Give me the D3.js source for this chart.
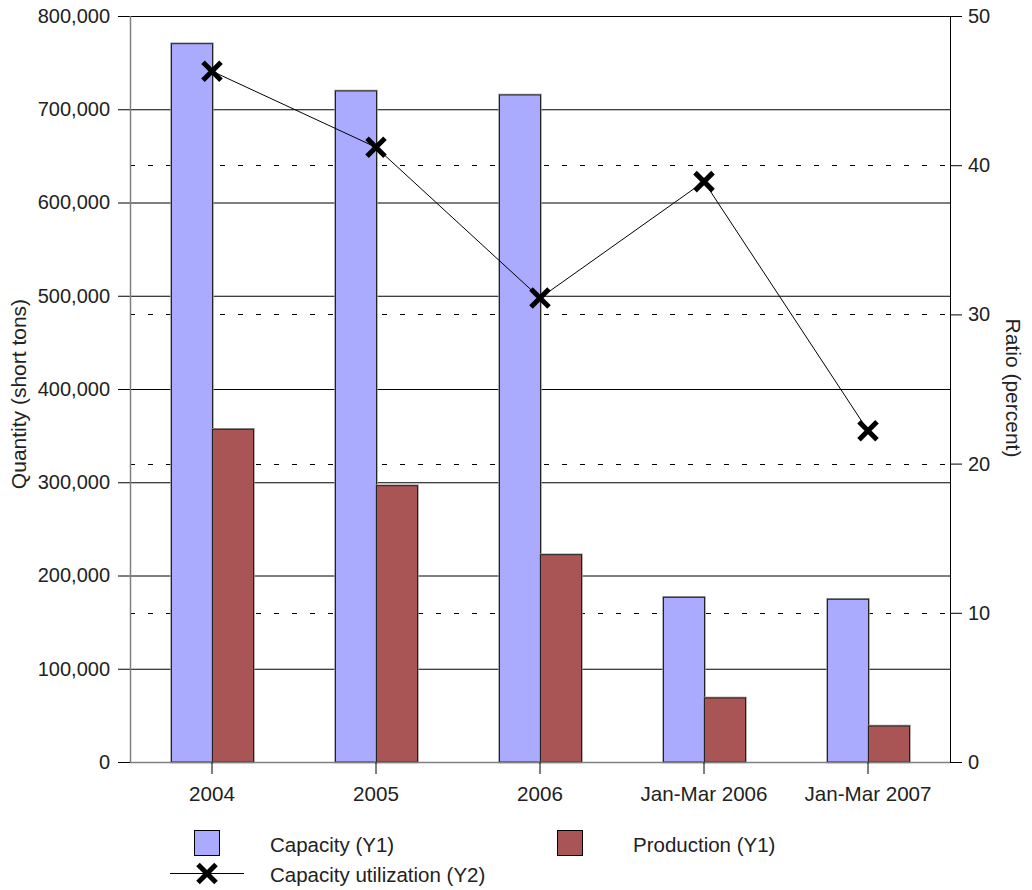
<!DOCTYPE html>
<html>
<head>
<meta charset="utf-8">
<script src="https://cdn.jsdelivr.net/npm/d3@7"></script>
<style>
  body { margin: 0; background: #fff; }
  svg { display: block; }
  text { font-family: "Liberation Sans", Arial, sans-serif; fill: #222; }
</style>
</head>
<body>
<svg id="chart" width="1032" height="890"></svg>
<script>
// Periods shown along the x axis
const categories = ["2004", "2005", "2006", "Jan-Mar 2006", "Jan-Mar 2007"];
// Quantities in short tons (left axis)
const capacity = [770300, 719600, 715300, 176600, 174500];
const production = [356800, 296300, 222300, 68700, 38600];
// Capacity utilization in percent (right axis)
const utilization = [46.3, 41.2, 31.1, 38.9, 22.2];
// Axis ticks
const y1Ticks = [0, 100000, 200000, 300000, 400000, 500000, 600000, 700000, 800000];
const y2Ticks = [0, 10, 20, 30, 40, 50];

const svg = d3.select("#chart");
const plotLeft = 130, plotRight = 950, plotTop = 16, plotBottom = 762;

const x = d3.scaleBand().domain(categories).range([plotLeft, plotRight])
  .paddingInner(0.5).paddingOuter(0.25);
const xSub = d3.scaleBand().domain(["capacity", "production"]).range([0, x.bandwidth()]);
const y1 = d3.scaleLinear().domain([0, 800000]).range([plotBottom, plotTop]);
const y2 = d3.scaleLinear().domain([0, 50]).range([plotBottom, plotTop]);
const fmt = d3.format(",");

// Dashed gridlines for the right axis
svg.append("g").selectAll("line")
  .data(y2Ticks.filter(t => t > 0 && t < 50))
  .join("line")
  .attr("x1", plotLeft).attr("x2", plotRight)
  .attr("y1", d => Math.round(y2(d)) + 0.5).attr("y2", d => Math.round(y2(d)) + 0.5)
  .attr("stroke", "#000").attr("stroke-width", 1).attr("stroke-dasharray", "5,13");

// Left axis: ticks extended into solid gridlines
const axisL = d3.axisLeft(y1).tickValues(y1Ticks).tickFormat(fmt)
  .tickSize(-(plotRight - plotLeft)).tickPadding(20);
const gL = svg.append("g").attr("transform", `translate(${plotLeft},0)`).call(axisL);
gL.select(".domain").remove();
gL.selectAll(".tick line").attr("x1", -12).attr("stroke", "#000");
gL.selectAll(".tick text").attr("font-size", 20).attr("x", -20).attr("fill", "#222");

// Bars
const bar = { capacity: "#aaaaff", production: "#aa5555" };
const groups = svg.append("g").selectAll("g")
  .data(categories.map((c, i) => ({ c, capacity: capacity[i], production: production[i] })))
  .join("g").attr("transform", d => `translate(${x(d.c)},0)`);
["capacity", "production"].forEach(k => {
  groups.append("rect")
    .attr("x", xSub(k) + 0.5).attr("y", d => y1(d[k]))
    .attr("width", xSub.bandwidth()).attr("height", d => y1(0) - y1(d[k]))
    .attr("fill", "none").attr("stroke", "#999").attr("stroke-width", 2.5);
  groups.append("rect")
    .attr("x", xSub(k) + 0.5).attr("y", d => y1(d[k]))
    .attr("width", xSub.bandwidth()).attr("height", d => y1(0) - y1(d[k]))
    .attr("fill", bar[k]).attr("stroke", "#222").attr("stroke-width", 1);
});

// Axis lines
svg.append("line").attr("x1", plotLeft + 0.5).attr("x2", plotLeft + 0.5).attr("y1", plotTop).attr("y2", plotBottom)
  .attr("stroke", "#808080").attr("stroke-width", 1.5);
svg.append("line").attr("x1", plotLeft).attr("x2", plotRight).attr("y1", plotBottom + 0.5).attr("y2", plotBottom + 0.5)
  .attr("stroke", "#808080").attr("stroke-width", 1.5);

// Right axis
const axisR = d3.axisRight(y2).tickValues(y2Ticks).tickSize(12).tickPadding(6);
const gR = svg.append("g").attr("transform", `translate(${plotRight},0)`).call(axisR);
gR.select(".domain").attr("d", `M0.5,${plotTop}V${plotBottom}`).attr("stroke", "#000");
gR.selectAll(".tick line").attr("stroke", "#000");
gR.selectAll(".tick text").attr("font-size", 20).attr("fill", "#222");

// Bottom axis
const axisB = d3.axisBottom(x).tickSize(12).tickPadding(12);
const gB = svg.append("g").attr("transform", `translate(0,${plotBottom})`).call(axisB);
gB.select(".domain").remove();
gB.selectAll(".tick line").attr("stroke", "#000");
gB.selectAll(".tick text").attr("font-size", 20.6).attr("fill", "#222");

// Utilization line with X markers
const cx = c => x(c) + x.bandwidth() / 2;
const pts = categories.map((c, i) => [cx(c), y2(utilization[i])]);
svg.append("path").attr("d", d3.line()(pts))
  .attr("fill", "none").attr("stroke", "#000").attr("stroke-width", 1);
const cross = "M-9,-9L9,9M-9,9L9,-9";
svg.append("g").selectAll("path").data(pts).join("path")
  .attr("transform", d => `translate(${d[0]},${d[1]})`)
  .attr("d", cross).attr("stroke", "#000").attr("stroke-width", 5).attr("fill", "none");

// Axis titles
svg.append("text").attr("transform", `translate(26,394) rotate(-90)`)
  .attr("text-anchor", "middle").attr("font-size", 21).text("Quantity (short tons)");
svg.append("text").attr("transform", `translate(1006,388) rotate(90)`)
  .attr("text-anchor", "middle").attr("font-size", 21).text("Ratio (percent)");

// Legend
const lg = svg.append("g");
lg.append("rect").attr("x", 194.5).attr("y", 830.5).attr("width", 25).attr("height", 25)
  .attr("fill", bar.capacity).attr("stroke", "#000");
lg.append("text").attr("x", 270).attr("y", 852).attr("font-size", 20.5).text("Capacity (Y1)");
lg.append("rect").attr("x", 557.5).attr("y", 830.5).attr("width", 25).attr("height", 25)
  .attr("fill", bar.production).attr("stroke", "#000");
lg.append("text").attr("x", 633).attr("y", 852).attr("font-size", 20.5).text("Production (Y1)");
lg.append("line").attr("x1", 170).attr("x2", 244).attr("y1", 873.5).attr("y2", 873.5)
  .attr("stroke", "#000").attr("stroke-width", 1);
lg.append("path").attr("transform", "translate(207,873.5)").attr("d", cross)
  .attr("stroke", "#000").attr("stroke-width", 5).attr("fill", "none");
lg.append("text").attr("x", 270).attr("y", 882).attr("font-size", 20.5).text("Capacity utilization (Y2)");
</script>
</body>
</html>
